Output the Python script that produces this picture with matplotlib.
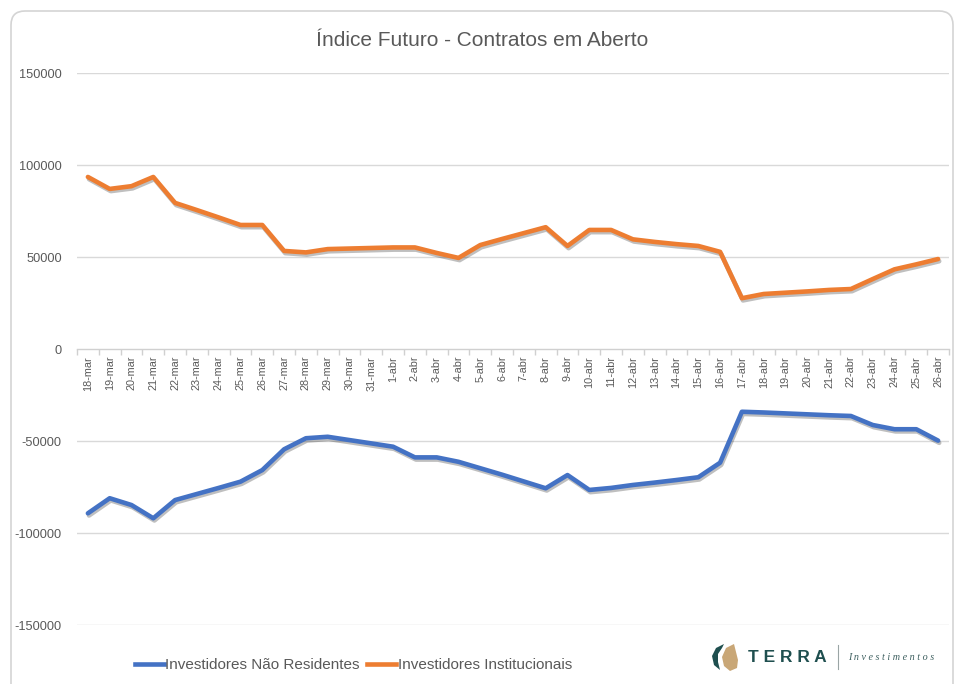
import matplotlib
matplotlib.use("Agg")
import matplotlib.pyplot as plt
import matplotlib.patheffects as pe
from matplotlib.patches import FancyBboxPatch, Polygon
from matplotlib.lines import Line2D
import numpy as np

# ---------------- data ----------------
dates = ([f"{d}-mar" for d in range(18, 32)] +
         [f"{d}-abr" for d in range(1, 27)])

nao_residentes = [-89300, -81100, -84800, -92000, -82100, -78800, -75500, -72100,
                  -65800, -54500, -48500, -47700, -49500, -51300, -53100, -58900,
                  -58900, -61300, -64800, -68300, -72000, -75700, -68500, -76600,
                  -75500, -73900, -72600, -71200, -69700, -61800, -34100, -34500,
                  -35000, -35500, -36000, -36400, -41300, -43600, -43600, -49800]

institucionais = [93500, 87000, 88500, 93500, 79400, 75500, 71500, 67400,
                  67400, 53300, 52500, 54300, 54600, 54900, 55200, 55200,
                  52200, 49500, 56500, 59800, 63000, 66200, 56000, 64700,
                  64700, 59600, 58200, 57000, 56000, 52800, 27600, 29900,
                  30600, 31300, 32100, 32600, 38000, 43300, 46000, 48900]

yticks = [-150000, -100000, -50000, 0, 50000, 100000, 150000]

title = "Índice Futuro - Contratos em Aberto"
series_names = ["Investidores Não Residentes", "Investidores Institucionais"]
colors = ["#4472C4", "#ED7D31"]

FONT = ["Liberation Sans", "DejaVu Sans"]
plt.rcParams["font.family"] = FONT
TXT = "#595959"

W, H = 964, 684
fig = plt.figure(figsize=(W / 100, H / 100), dpi=100)
fig.patch.set_facecolor("white")

# background card
bg = fig.add_axes([0, 0, 1, 1], zorder=-5)
bg.set_xlim(0, W); bg.set_ylim(H, 0); bg.axis("off")
card = FancyBboxPatch((11, 11), W - 22, H + 20, boxstyle="round,pad=0,rounding_size=14",
                      facecolor="white", edgecolor="#d4d4d4", linewidth=1.2)
bg.add_patch(card)

# main axes
left, right, top, bottom = 77, 949, 73, 625
ax = fig.add_axes([left / W, 1 - bottom / H, (right - left) / W, (bottom - top) / H])
ax.set_facecolor("none")
x = np.arange(len(dates))
ax.set_xlim(-0.5, len(dates) - 0.5)
ax.set_ylim(-150000, 150000)

for yv in yticks:
    if yv != 0:
        ax.axhline(yv, color="#d9d9d9", lw=1.0, zorder=0)

shadow = [pe.SimpleLineShadow(offset=(0.8, -1.6), shadow_color="#000000", alpha=0.25),
          pe.Normal()]
for vals, col in zip([nao_residentes, institucionais], colors):
    ax.plot(x, vals, color=col, lw=3.3, solid_joinstyle="round", solid_capstyle="round",
            path_effects=shadow, zorder=3)

for s in ["top", "right", "left"]:
    ax.spines[s].set_visible(False)
ax.spines["bottom"].set_position(("data", 0))
ax.spines["bottom"].set_color("#d0d0d0")
ax.spines["bottom"].set_linewidth(1.0)

ax.set_xticks(x)
ax.set_xticklabels(dates, rotation=90, fontsize=7.8, color=TXT)
ax.set_xticks(np.arange(-0.5, len(dates)), minor=True)
ax.tick_params(axis="x", which="major", length=0, pad=5)
ax.tick_params(axis="x", which="minor", length=4, color="#d0d0d0", width=1)

ax.set_yticks(yticks)
ax.set_yticklabels([str(v) for v in yticks], fontsize=9.2, color=TXT)
ax.tick_params(axis="y", length=0, pad=11)

# title
fig.text(0.5, 1 - 40 / H, title, ha="center", va="center", fontsize=15, color=TXT)

# legend
handles = [Line2D([0], [0], color=c, lw=3.3) for c in colors]
fig.legend(handles, series_names, loc="center left", bbox_to_anchor=(124 / W, 1 - 665 / H),
           ncol=2, frameon=False, fontsize=11, handlelength=1.9, handletextpad=0.1,
           columnspacing=0.5, labelcolor=TXT, borderpad=0.2)

# logo (pixel coordinate overlay)
ov = fig.add_axes([0, 0, 1, 1], zorder=10)
ov.set_xlim(0, W); ov.set_ylim(H, 0); ov.axis("off")
ov.add_patch(Polygon([(724, 644), (716, 648), (712, 656), (714, 665), (720, 670),
                      (718, 662), (718, 654), (722, 648)], closed=True,
                     facecolor="#1f4f4f", edgecolor="none"))
ov.add_patch(Polygon([(734, 644), (726, 648), (722, 657), (724, 666), (730, 671),
                      (737, 668), (738, 660), (736, 652)], closed=True,
                     facecolor="#c9a777", edgecolor="none"))
ov.text(748, 657, "T E R R A", ha="left", va="center", fontsize=12.5, fontweight="bold",
        color="#1f4f4f", family=["Liberation Sans", "DejaVu Sans"])
ov.plot([838, 838], [645, 669], color="#9aa5a5", lw=0.8)
ov.text(848, 658, "I n v e s t i m e n t o s", ha="left", va="center", fontsize=7.3,
        style="italic", color="#3d5f5f", family=["Liberation Serif", "DejaVu Serif"])

fig.savefig("out.png", dpi=100, facecolor="white")
